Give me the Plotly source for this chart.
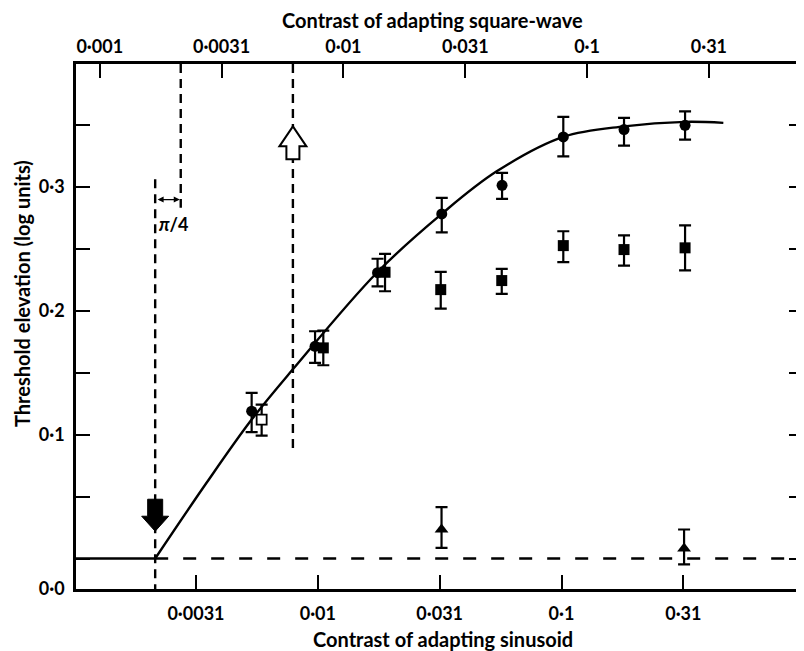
import numpy as np
import plotly.graph_objects as go

# ---- data (x = contrast of adapting sinusoid, y = threshold elevation, log units) ----
circ_x = [0.00535, 0.00974, 0.01758, 0.03225, 0.05702, 0.1017, 0.1805, 0.3214]
circ_y = [0.1188, 0.1712, 0.2306, 0.2780, 0.3010, 0.3401, 0.3460, 0.3494]
circ_ep = [0.0148, 0.0121, 0.0112, 0.0129, 0.0100, 0.0161, 0.0094, 0.0113]
circ_em = [0.0169, 0.0134, 0.0111, 0.0149, 0.0109, 0.0157, 0.0129, 0.0115]

osq_x = [0.00588]
osq_y = [0.1121]
osq_ep = [0.0121]
osq_em = [0.0129]

sq_x = [0.01053, 0.01887, 0.03194, 0.05685, 0.1017, 0.1805, 0.3214]
sq_y = [0.1699, 0.2309, 0.2169, 0.2242, 0.2524, 0.2492, 0.2506]
sq_ep = [0.0140, 0.0148, 0.0143, 0.0094, 0.0116, 0.0115, 0.0182]
sq_em = [0.0140, 0.0153, 0.0153, 0.0107, 0.0134, 0.0129, 0.0181]

tri_x = [0.03218, 0.3184]
tri_y = [0.0234, 0.0081]
tri_ep = [0.0180, 0.0153]
tri_em = [0.0148, 0.0129]

threshold = 0.00215          # detection threshold contrast
flat_x = [0.001, threshold]
flat_y = [0.0, 0.0]
curve_x = [threshold, 0.0035, 0.00535, 0.00788, 0.01754,
           0.03224, 0.0542, 0.1017, 0.1806, 0.3214, 0.4614]
curve_y = [0.0, 0.0613, 0.1121, 0.1524, 0.2309,
           0.2780, 0.3123, 0.3401, 0.3486, 0.3522, 0.3514]

baseline_x = [threshold, 1.0]
baseline_y = [0.0, 0.0]

open_arrow_x = 0.0079
open_arrow_tip = 0.3486
filled_arrow_tip = 0.022
line1_top = 0.306
line2_bottom = 0.283
line3_bottom = 0.0865
pi4_y = 0.2895

bottom_tickvals = [0.003162, 0.01, 0.03162, 0.1, 0.3162]
bottom_ticktext = ["0·0031", "0·01", "0·031", "0·1", "0·31"]
top_tickvals = [0.001, 0.003162, 0.01, 0.03162, 0.1, 0.3162]
top_ticktext = ["0·001", "0·0031", "0·01", "0·031", "0·1", "0·31"]

y_min, y_max = -0.0246, 0.3989
y_tickvals = [y_min, 0.0, 0.05, 0.10, 0.15, 0.20, 0.25, 0.30, 0.35]
y_ticktext = ["0·0", "", "", "0·1", "", "0·2", "", "0·3", ""]

x_range = [-2.9925, -0.009]              # log10 of sinusoid contrast
sq_shift = np.log10(4 / np.pi)          # fundamental of square wave = 4/pi * contrast
x2_range = [x_range[0] - sq_shift, x_range[1] - sq_shift]

FONT = "Lato"
BLACK = "#000000"

fig = go.Figure()

# flat + curve
fig.add_trace(go.Scatter(x=flat_x, y=flat_y, mode="lines",
                         line=dict(color=BLACK, width=2.4), hoverinfo="skip"))
fig.add_trace(go.Scatter(x=curve_x, y=curve_y, mode="lines",
                         line=dict(color=BLACK, width=2.4, shape="spline", smoothing=1.0),
                         hoverinfo="skip"))
# dashed baseline
fig.add_trace(go.Scatter(x=baseline_x, y=baseline_y, mode="lines",
                         line=dict(color=BLACK, width=2.4, dash="13px,15px"), hoverinfo="skip"))
# vertical dashed lines
fig.add_trace(go.Scatter(x=[threshold, threshold], y=[line1_top, y_min], mode="lines",
                         line=dict(color=BLACK, width=2.4, dash="9px,6px"), hoverinfo="skip"))
fig.add_trace(go.Scatter(x=[threshold, threshold], y=[y_max, line2_bottom], mode="lines",
                         xaxis="x2", yaxis="y",
                         line=dict(color=BLACK, width=2.4, dash="9px,6px"), hoverinfo="skip"))
fig.add_trace(go.Scatter(x=[open_arrow_x, open_arrow_x], y=[y_max, line3_bottom], mode="lines",
                         line=dict(color=BLACK, width=2.4, dash="9px,6px"), hoverinfo="skip"))

err_style = dict(type="data", symmetric=False, color=BLACK, thickness=2.2, width=6)

fig.add_trace(go.Scatter(x=circ_x, y=circ_y, mode="markers",
                         marker=dict(symbol="circle", size=11, color=BLACK),
                         error_y=dict(array=circ_ep, arrayminus=circ_em, **err_style)))
fig.add_trace(go.Scatter(x=osq_x, y=osq_y, mode="markers",
                         marker=dict(symbol="square", size=10, color="white",
                                     line=dict(color=BLACK, width=1.8)),
                         error_y=dict(array=osq_ep, arrayminus=osq_em, **err_style)))
fig.add_trace(go.Scatter(x=sq_x, y=sq_y, mode="markers",
                         marker=dict(symbol="square", size=11, color=BLACK),
                         error_y=dict(array=sq_ep, arrayminus=sq_em, **err_style)))
fig.add_trace(go.Scatter(x=tri_x, y=tri_y, mode="markers",
                         marker=dict(symbol="triangle-up", size=12, color=BLACK),
                         error_y=dict(array=tri_ep, arrayminus=tri_em, **err_style)))

# arrows as pixel-sized shapes anchored to data positions (x3 = log10 contrast, linear)
fig.add_shape(type="path", xref="x3", yref="y", xsizemode="pixel", ysizemode="pixel",
              xanchor=float(np.log10(threshold)), yanchor=filled_arrow_tip,
              path="M0,0 L-13.5,15 L-7.5,15 L-7.5,32 L7.5,32 L7.5,15 L13.5,15 Z",
              fillcolor=BLACK, line=dict(color=BLACK, width=1), layer="above")
fig.add_shape(type="path", xref="x3", yref="y", xsizemode="pixel", ysizemode="pixel",
              xanchor=float(np.log10(open_arrow_x)), yanchor=open_arrow_tip,
              path="M0,0 L-13.5,-20 L-6.5,-20 L-6.5,-33 L6.5,-33 L6.5,-20 L13.5,-20 Z",
              fillcolor="white", line=dict(color=BLACK, width=2), layer="above")

# pi/4 double arrow
fig.add_annotation(xref="x3", yref="y", axref="x3", ayref="y",
                   x=float(np.log10(threshold) + sq_shift) - 0.004, y=pi4_y,
                   ax=float(np.log10(threshold)) + 0.004, ay=pi4_y,
                   text="", showarrow=True, arrowside="end+start", arrowhead=2,
                   arrowsize=1, arrowwidth=1.2, arrowcolor=BLACK)
fig.add_annotation(xref="x3", yref="y", x=float(np.log10(threshold)) + 0.075, y=0.270,
                   text="<i>π</i>/4", showarrow=False,
                   font=dict(family=FONT, size=18, color=BLACK, weight="bold"))

# titles
fig.add_annotation(xref="paper", yref="paper", x=0.4897, y=1.0838,
                   text="Contrast of adapting square-wave", showarrow=False,
                   font=dict(family=FONT, size=20, color=BLACK, weight="bold"), yanchor="middle")
fig.add_annotation(xref="paper", yref="paper", x=0.505, y=-0.0952,
                   text="Contrast of adapting sinusoid", showarrow=False,
                   font=dict(family=FONT, size=20, color=BLACK, weight="bold"), yanchor="middle")
fig.add_annotation(xref="paper", yref="paper", x=-0.0743, y=0.5638,
                   text="Threshold elevation (log units)", showarrow=False, textangle=-90,
                   font=dict(family=FONT, size=20, color=BLACK, weight="bold"),
                   xanchor="center", yanchor="middle")

axis_common = dict(showline=True, linecolor=BLACK, linewidth=2.6, ticks="inside",
                   ticklen=14, tickwidth=2.2, tickcolor=BLACK, showgrid=False, zeroline=False,
                   automargin=False,
                   tickfont=dict(family=FONT, size=18, color=BLACK, weight="bold"))

# page body has an 8px margin, so the figure is 8px smaller than the window
fig.update_layout(
    width=796, height=643,
    margin=dict(l=68, r=1, t=56, b=62, autoexpand=False),
    paper_bgcolor="white", plot_bgcolor="white",
    showlegend=False,
    font=dict(family=FONT, color=BLACK),
    xaxis=dict(type="log", range=x_range, tickvals=bottom_tickvals, ticktext=bottom_ticktext,
               ticklabelstandoff=7, **axis_common),
    xaxis2=dict(type="log", range=x2_range, overlaying="x", side="top", anchor="y",
                tickvals=top_tickvals, ticktext=top_ticktext, ticklabelstandoff=1, **axis_common),
    xaxis3=dict(type="linear", range=x_range, overlaying="x", visible=False, automargin=False),
    yaxis=dict(range=[y_min, y_max], tickvals=y_tickvals, ticktext=y_ticktext,
               mirror="ticks", ticklabelstandoff=5, **axis_common),
)

fig.write_html("out.html")
